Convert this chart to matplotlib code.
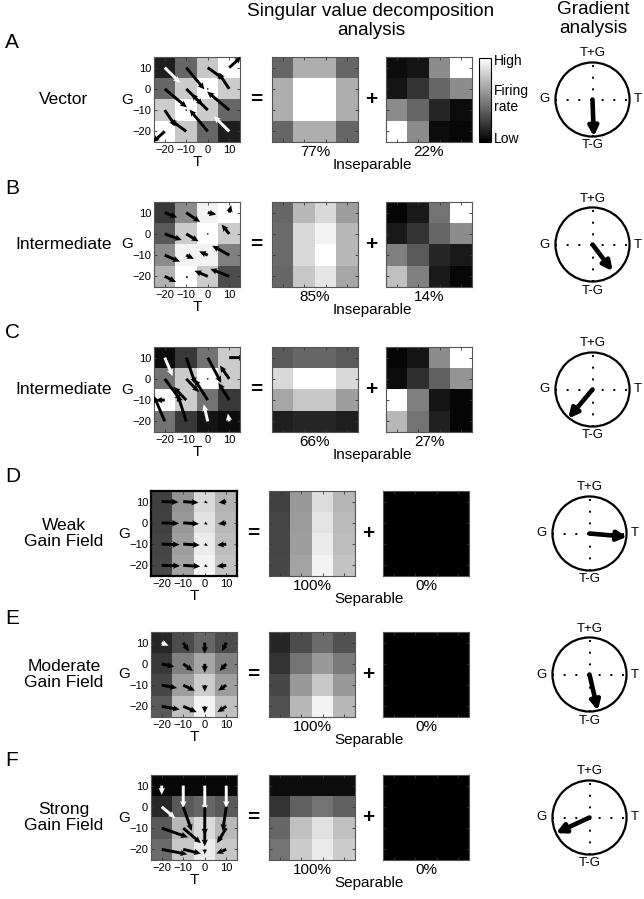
import numpy as np
import matplotlib
matplotlib.use("Agg")
import matplotlib.pyplot as plt
from matplotlib.patches import Circle
from matplotlib.cm import ScalarMappable
from matplotlib.colors import Normalize

plt.rcParams['font.family'] = ['Liberation Sans', 'DejaVu Sans']

W, H = 644, 899

t_vals = [-20, -10, 0, 10]
g_vals = [10, 0, -10, -20]   # top row first

letters = ["A", "B", "C", "D", "E", "F"]
row_names = ["Vector", "Intermediate", "Intermediate",
             "Weak\nGain Field", "Moderate\nGain Field", "Strong\nGain Field"]
pct_first = ["77%", "85%", "66%", "100%", "100%", "100%"]
pct_second = ["22%", "14%", "27%", "0%", "0%", "0%"]
sep_words = ["Inseparable", "Inseparable", "Inseparable",
             "Separable", "Separable", "Separable"]

# firing rate maps, rows G=10..-20, cols T=-20..10 (0 = low/black, 1 = high/white)
rate_a = [[0.12, 0.40, 0.78, 1.00],
          [0.40, 0.80, 1.00, 0.80],
          [0.80, 1.00, 0.80, 0.40],
          [1.00, 0.78, 0.40, 0.12]]
sep_a = [[0.40, 0.68, 0.68, 0.40],
         [0.68, 1.00, 1.00, 0.68],
         [0.68, 1.00, 1.00, 0.68],
         [0.40, 0.68, 0.68, 0.40]]
res_a = [[0.05, 0.08, 0.55, 1.00],
         [0.08, 0.20, 0.40, 0.55],
         [0.55, 0.40, 0.15, 0.05],
         [1.00, 0.55, 0.05, 0.03]]

rate_b = [[0.22, 0.55, 0.95, 1.00],
          [0.35, 0.80, 1.00, 0.80],
          [0.55, 0.95, 0.95, 0.50],
          [0.70, 1.00, 0.80, 0.30]]
sep_b = [[0.40, 0.72, 0.85, 0.62],
         [0.42, 0.85, 0.95, 0.72],
         [0.42, 0.85, 1.00, 0.72],
         [0.40, 0.78, 0.90, 0.65]]
res_b = [[0.02, 0.10, 0.45, 1.00],
         [0.10, 0.20, 0.40, 0.55],
         [0.50, 0.35, 0.15, 0.10],
         [0.75, 0.50, 0.10, 0.03]]

rate_c = [[0.05, 0.22, 0.45, 0.80],
          [0.45, 0.80, 1.00, 0.80],
          [1.00, 0.80, 0.45, 0.22],
          [0.45, 0.22, 0.08, 0.05]]
sep_c = [[0.35, 0.40, 0.40, 0.35],
         [0.85, 1.00, 1.00, 0.85],
         [0.65, 0.78, 0.78, 0.62],
         [0.12, 0.15, 0.15, 0.12]]
res_c = [[0.02, 0.08, 0.55, 1.00],
         [0.05, 0.18, 0.38, 0.58],
         [1.00, 0.50, 0.08, 0.02],
         [0.72, 0.45, 0.13, 0.02]]

rate_d = [[0.25, 0.58, 0.85, 0.70],
          [0.26, 0.60, 0.88, 0.72],
          [0.27, 0.62, 0.92, 0.74],
          [0.28, 0.64, 0.95, 0.76]]
sep_d = [[0.26, 0.60, 0.86, 0.71],
         [0.27, 0.61, 0.89, 0.73],
         [0.27, 0.62, 0.92, 0.74],
         [0.28, 0.64, 0.95, 0.76]]
res_d = [[0.0, 0.0, 0.0, 0.0],
         [0.0, 0.0, 0.0, 0.0],
         [0.0, 0.0, 0.0, 0.0],
         [0.0, 0.0, 0.0, 0.0]]

rate_e = [[0.15, 0.30, 0.40, 0.30],
          [0.22, 0.50, 0.65, 0.50],
          [0.28, 0.62, 0.80, 0.62],
          [0.35, 0.75, 0.95, 0.75]]
sep_e = [[0.15, 0.30, 0.42, 0.32],
         [0.20, 0.45, 0.60, 0.48],
         [0.28, 0.60, 0.78, 0.60],
         [0.32, 0.72, 0.95, 0.72]]
res_e = [[0.0, 0.0, 0.0, 0.0],
         [0.0, 0.0, 0.0, 0.0],
         [0.0, 0.0, 0.0, 0.0],
         [0.0, 0.0, 0.0, 0.0]]

rate_f = [[0.03, 0.03, 0.03, 0.03],
          [0.16, 0.35, 0.40, 0.35],
          [0.35, 0.72, 0.85, 0.72],
          [0.42, 0.78, 0.92, 0.78]]
sep_f = [[0.05, 0.05, 0.05, 0.05],
         [0.20, 0.38, 0.45, 0.38],
         [0.40, 0.75, 0.88, 0.75],
         [0.45, 0.80, 0.92, 0.80]]
res_f = [[0.0, 0.0, 0.0, 0.0],
         [0.0, 0.0, 0.0, 0.0],
         [0.0, 0.0, 0.0, 0.0],
         [0.0, 0.0, 0.0, 0.0]]

rate_maps = [rate_a, rate_b, rate_c, rate_d, rate_e, rate_f]
sep_maps = [sep_a, sep_b, sep_c, sep_d, sep_e, sep_f]
res_maps = [res_a, res_b, res_c, res_d, res_e, res_f]

# longest gradient arrow per panel, in cells
arrow_max = [1.35, 0.95, 1.35, 0.85, 0.85, 1.35]

# population gradient direction (deg, T to the right, T+G up) and length
grad_angle = [-88, -53, -130, -5, -77, 205]
grad_len = [1.0, 0.9, 1.02, 1.02, 1.0, 1.0]

row_top = [57, 202, 347, 491, 632, 775]
row_dx = [0, 0, 0, -3, -3, -3]
hm_x = [154, 272, 386]
hm_w, hm_h = 86, 85

fig = plt.figure(figsize=(W / 100, H / 100), dpi=100)


def px_axes(x, y, w, h):
    return fig.add_axes([x / W, 1 - (y + h) / H, w / W, h / H])


def px_text(x, y, s, **kw):
    fig.text(x / W, 1 - y / H, s, **kw)


def heat(ax, m, labels, bold_frame=False):
    ax.imshow(np.array(m), cmap='gray', vmin=0, vmax=1,
              extent=[-25, 15, -25, 15], aspect='auto', interpolation='nearest')
    ax.set_xticks(t_vals)
    ax.set_yticks(sorted(g_vals))
    ax.set_xlim(-25, 15)
    ax.set_ylim(-25, 15)
    ax.tick_params(direction='in', top=True, right=True, length=2.5, width=0.6,
                   labelsize=8, pad=2, colors='#333333', labelcolor='black',
                   labelleft=labels, labelbottom=labels)
    for s in ax.spines.values():
        s.set_color('black' if bold_frame else '#555555')
        s.set_linewidth(1.6 if bold_frame else 0.8)


px_text(371, 3, "Singular value decomposition\nanalysis", ha='center', va='top',
        fontsize=13.7, linespacing=1.12)
px_text(593, 1, "Gradient\nanalysis", ha='center', va='top', fontsize=13.7, linespacing=1.12)

X, Y = np.meshgrid(t_vals, g_vals)

for i in range(6):
    top = row_top[i]
    dx = row_dx[i]
    cy = top + hm_h / 2
    x1, x2, x3 = [x + dx for x in hm_x]

    px_text(5, top - 14, letters[i], ha='left', va='center', fontsize=15)
    px_text(64, cy, row_names[i], ha='center', va='center', fontsize=12.5, linespacing=1.15)

    # firing map with gradient arrows
    ax1 = px_axes(x1, top, hm_w, hm_h)
    m = np.array(rate_maps[i])
    heat(ax1, m, True, bold_frame=(i == 3))
    d_row, d_col = np.gradient(m)
    U = d_col
    V = -d_row
    k = arrow_max[i] * 10 / np.hypot(U, V).max()
    cols = ['white' if v < 0.18 else 'black' for v in m.ravel()]
    ax1.quiver(X, Y, U * k, V * k, color=cols, angles='xy', scale_units='xy', scale=1,
               width=0.034, headwidth=2.2, headlength=2.4, headaxislength=2.1,
               minlength=0.6, zorder=3)
    ax1.set_xlabel("T", fontsize=11, labelpad=0)
    ax1.set_ylabel("G", fontsize=11, rotation=0, labelpad=4, va='center')

    px_text(x1 + hm_w + 16, cy, "=", ha='center', va='center', fontsize=15, fontweight='bold')

    ax2 = px_axes(x2, top, hm_w, hm_h)
    heat(ax2, sep_maps[i], False)
    px_text(x2 + hm_w + 13, cy, "+", ha='center', va='center', fontsize=15, fontweight='bold')

    ax3 = px_axes(x3, top, hm_w, hm_h)
    heat(ax3, res_maps[i], False)

    px_text(x2 + hm_w / 2, top + hm_h + 10, pct_first[i], ha='center', va='center', fontsize=11)
    px_text(x3 + hm_w / 2, top + hm_h + 10, pct_second[i], ha='center', va='center', fontsize=11)
    px_text((x2 + hm_w + x3) / 2, top + hm_h + 23, sep_words[i], ha='center', va='center',
            fontsize=11)

    # gradient compass
    ccx = 592.5 + dx
    axc = px_axes(ccx - 50, cy - 50, 100, 100)
    axc.set_xlim(-1.35, 1.35)
    axc.set_ylim(-1.35, 1.35)
    axc.set_aspect('equal')
    axc.axis('off')
    axc.add_patch(Circle((0, 0), 1.0, fill=False, lw=1.6, color='black'))
    axc.plot([-1, 1], [0, 0], color='black', lw=1.4, linestyle=(0, (1, 5)))
    axc.plot([0, 0], [-1, 1], color='black', lw=1.4, linestyle=(0, (1, 5)))
    a = np.deg2rad(grad_angle[i])
    tip = (grad_len[i] * np.cos(a), grad_len[i] * np.sin(a))
    axc.annotate("", xy=tip, xytext=(0, 0),
                 arrowprops=dict(arrowstyle='-|>,head_length=0.55,head_width=0.28',
                                 lw=3.3, color='black', shrinkA=0, shrinkB=0))
    axc.text(0, 1.08, "T+G", ha='center', va='bottom', fontsize=9.5)
    axc.text(0, -1.08, "T-G", ha='center', va='top', fontsize=9.5)
    axc.text(-1.15, 0, "G", ha='right', va='center', fontsize=9.5)
    axc.text(1.12, 0, "T", ha='left', va='center', fontsize=9.5)

# colour bar (row A only)
cax = px_axes(479, 58, 12, 84)
cb = fig.colorbar(ScalarMappable(norm=Normalize(0, 1), cmap='gray'), cax=cax)
cb.set_ticks([])
cb.outline.set_linewidth(0.8)
px_text(494, 61, "High", ha='left', va='center', fontsize=10)
px_text(494, 99, "Firing\nrate", ha='left', va='center', fontsize=10, linespacing=1.1)
px_text(494, 139, "Low", ha='left', va='center', fontsize=10)

fig.savefig("out.png", dpi=100)
